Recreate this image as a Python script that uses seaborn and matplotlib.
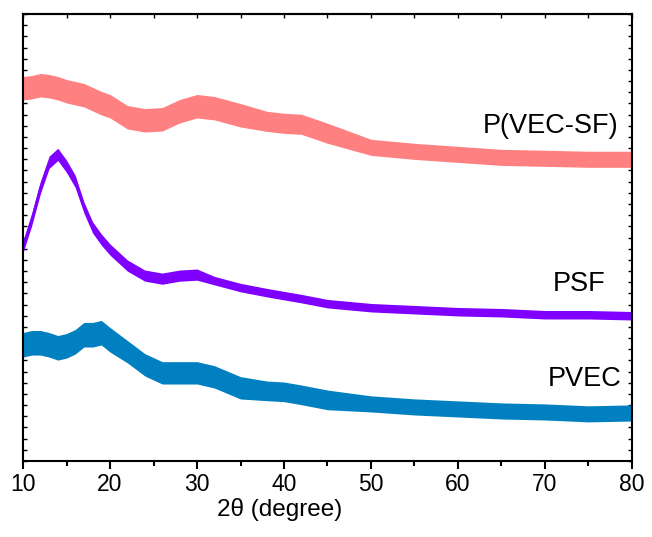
import numpy as np
import pandas as pd
import matplotlib
matplotlib.use("Agg")
import matplotlib.pyplot as plt
from matplotlib.ticker import MultipleLocator, NullFormatter
import seaborn as sns

# 2theta sample positions (degree)
two_theta = [10, 11, 12, 13, 14, 15, 16, 17, 18, 19, 20, 22, 24, 26, 28, 30, 32,
             35, 38, 40, 42, 45, 50, 55, 60, 65, 70, 75, 80]

# stacked intensities (a.u., offset) - centre of the noisy trace
p_vec_sf = [33.36, 33.45, 33.63, 33.54, 33.36, 33.09, 32.91, 32.74, 32.38, 32.02, 31.75,
            30.76, 30.49, 30.58, 31.30, 31.75, 31.57, 30.94, 30.40, 30.22, 30.13, 29.33,
            28.07, 27.71, 27.44, 27.17, 27.09, 27.00, 27.00]
psf = [19.19, 21.61, 24.48, 26.73, 27.44, 26.37, 25.02, 22.69, 20.90, 19.82, 18.92,
       17.49, 16.59, 16.32, 16.59, 16.68, 16.14, 15.52, 15.07, 14.80, 14.53, 14.08,
       13.72, 13.54, 13.36, 13.27, 13.09, 13.09, 13.00]
pvec = [10.40, 10.58, 10.58, 10.40, 10.13, 10.31, 10.67, 11.30, 11.30, 11.48, 10.85,
        9.78, 8.61, 7.89, 7.89, 7.89, 7.53, 6.55, 6.28, 6.19, 5.92, 5.47,
        5.11, 4.84, 4.66, 4.48, 4.39, 4.22, 4.30]

# half-width of the noise band around each trace
p_vec_sf_noise = [1.05] * 18 + [0.9] * 4 + [0.72] * 7
psf_noise = [0.55] * 7 + [0.5] * 9 + [0.38] * 13
pvec_noise = [1.1] * 11 + [1.0] * 7 + [0.88] * 4 + [0.72] * 7

series_names = ["P(VEC-SF)", "PSF", "PVEC"]
series_colors = ["#FF8080", "#8000FF", "#0080C0"]

rows = []
for name, vals, noise in zip(series_names, [p_vec_sf, psf, pvec],
                             [p_vec_sf_noise, psf_noise, pvec_noise]):
    for x, v, n in zip(two_theta, vals, noise):
        rows.append({"x": x, "y": v - n, "series": name})
        rows.append({"x": x, "y": v + n, "series": name})
df = pd.DataFrame(rows)

sns.set_style("ticks")
plt.rcParams["font.family"] = ["Liberation Sans", "DejaVu Sans"]
plt.rcParams["text.color"] = "black"
plt.rcParams["axes.labelcolor"] = "black"
plt.rcParams["xtick.color"] = "black"
plt.rcParams["ytick.color"] = "black"

fig = plt.figure(figsize=(6.52, 5.37), dpi=100)
ax = fig.add_axes([0.0353, 0.1415, 0.934, 0.8324])

sns.lineplot(data=df, x="x", y="y", hue="series", hue_order=series_names,
             palette=dict(zip(series_names, series_colors)),
             errorbar=("pi", 100), err_kws={"alpha": 1, "linewidth": 0},
             linewidth=1.5, legend=False, ax=ax)

ax.set_xlim(10, 80)
ax.set_ylim(0, 40)
ax.xaxis.set_major_locator(MultipleLocator(10))
ax.xaxis.set_minor_locator(MultipleLocator(5))
ax.yaxis.set_major_locator(MultipleLocator(1))
ax.yaxis.set_major_formatter(NullFormatter())

for sp in ax.spines.values():
    sp.set_linewidth(1.5)
    sp.set_color("black")

ax.tick_params(axis="x", which="major", direction="out", length=6, width=1.5,
               labelsize=16.5, pad=2.5, top=False, colors="black")
ax.tick_params(axis="x", which="minor", direction="out", length=3.5, width=1.5)
ax.tick_params(axis="y", which="major", direction="in", length=3, width=1.0,
               left=True, right=True, labelleft=False)

# top ticks inward
secx = ax.secondary_xaxis("top")
secx.xaxis.set_major_locator(MultipleLocator(5))
secx.tick_params(direction="in", length=3, width=1.0, labeltop=False)
secx.spines["top"].set_linewidth(1.5)

ax.set_xlabel("2θ (degree)", fontsize=17.5, color="black")
ax.xaxis.set_label_coords(0.422, -0.082)
ax.set_ylabel("")

ax.text(78.4, 30.0, "P(VEC-SF)", ha="right", va="center", fontsize=19.5, color="black")
ax.text(76.9, 15.8, "PSF", ha="right", va="center", fontsize=19.5, color="black")
ax.text(78.85, 7.35, "PVEC", ha="right", va="center", fontsize=19.5, color="black")

fig.savefig("out.png", dpi=100)
